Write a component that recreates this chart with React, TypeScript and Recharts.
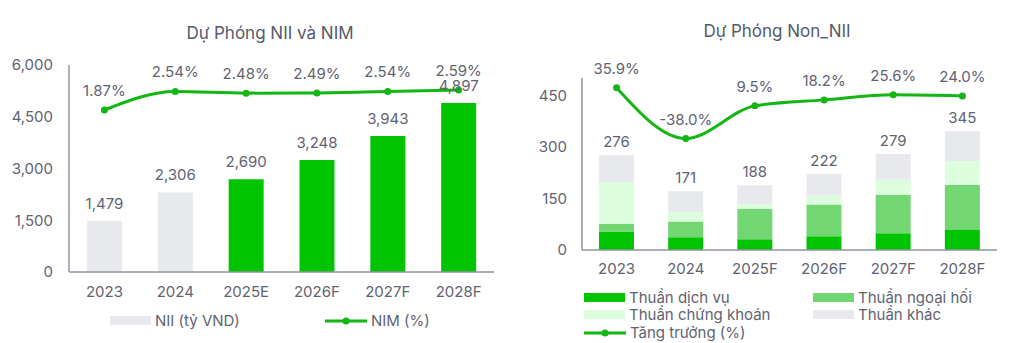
import React from "react";
import {
  ComposedChart,
  Bar,
  Line,
  Cell,
  XAxis,
  YAxis,
  LabelList,
  Legend,
} from "recharts";

// NII & NIM
const NII_YEARS = ["2023", "2024", "2025E", "2026F", "2027F", "2028F"];
const NII_VALUES = [1479, 2306, 2690, 3248, 3943, 4897];
const NIM_VALUES = [1.87, 2.54, 2.48, 2.49, 2.54, 2.59];
const NII_TICKS = [0, 1500, 3000, 4500, 6000];

// Non-NII
const NON_YEARS = ["2023", "2024", "2025F", "2026F", "2027F", "2028F"];
const DICH_VU = [54, 37, 31, 40, 49, 58];
const NGOAI_HOI = [22, 46, 88, 92, 111, 131];
const CHUNG_KHOAN = [121, 27, 15, 26, 44, 69];
const KHAC = [79, 61, 54, 64, 75, 87];
const NON_TOTAL = [276, 171, 188, 222, 279, 345];
const GROWTH = [35.9, -38.0, 9.5, 18.2, 25.6, 24.0];
const NON_TICKS = [0, 150, 300, 450];

const GREEN = "#00C400";
const LINE_GREEN = "#13B613";
const FX = "#72D672";
const SEC = "#DCFEDC";
const GREY = "#E8E9ED";
const TEXT = "#5f6372";
const AXIS = "#8f94a0";
const FONT = "Inter, sans-serif";

const niiData = NII_YEARS.map((year, i) => ({
  year,
  nii: NII_VALUES[i],
  nim: NIM_VALUES[i],
}));

const nonData = NON_YEARS.map((year, i) => ({
  year,
  dv: DICH_VU[i],
  fx: NGOAI_HOI[i],
  ck: CHUNG_KHOAN[i],
  khac: KHAC[i],
  total: NON_TOTAL[i],
  growth: GROWTH[i],
}));

const tickStyle = { fill: TEXT, fontSize: 15 };

function Swatch({ color }: { color: string }) {
  return (
    <span
      style={{
        display: "inline-block",
        width: 41,
        height: 9,
        background: color,
        marginRight: 4,
      }}
    />
  );
}

function LineSwatch() {
  return (
    <svg width={43} height={10} style={{ marginRight: 3 }}>
      <line x1={0} y1={5} x2={42} y2={5} stroke={LINE_GREEN} strokeWidth={3} />
      <circle cx={21} cy={5} r={3.5} fill={LINE_GREEN} />
    </svg>
  );
}

const legendItem: React.CSSProperties = {
  display: "flex",
  alignItems: "center",
  fontSize: 15,
  color: TEXT,
  lineHeight: "17px",
  whiteSpace: "nowrap",
};

function NiiLegend() {
  return (
    <div style={{ position: "relative", width: 400, height: 20 }}>
      <div style={{ ...legendItem, position: "absolute", left: 0, top: 0 }}>
        <Swatch color={GREY} />
        NII (tỷ VND)
      </div>
      <div style={{ ...legendItem, position: "absolute", left: 215, top: 0 }}>
        <LineSwatch />
        NIM (%)
      </div>
    </div>
  );
}

function NonLegend() {
  return (
    <div style={{ position: "relative", width: 420, height: 54 }}>
      <div style={{ ...legendItem, position: "absolute", left: 0, top: 0 }}>
        <Swatch color={GREEN} />
        Thuần dịch vụ
      </div>
      <div style={{ ...legendItem, position: "absolute", left: 229, top: 0 }}>
        <Swatch color={FX} />
        Thuần ngoại hối
      </div>
      <div style={{ ...legendItem, position: "absolute", left: 0, top: 17 }}>
        <Swatch color={SEC} />
        Thuần chứng khoán
      </div>
      <div style={{ ...legendItem, position: "absolute", left: 229, top: 17 }}>
        <Swatch color={GREY} />
        Thuần khác
      </div>
      <div style={{ ...legendItem, position: "absolute", left: 0, top: 35 }}>
        <LineSwatch />
        Tăng trưởng (%)
      </div>
    </div>
  );
}

const titleStyle: React.CSSProperties = {
  position: "absolute",
  fontSize: 17,
  color: "#545a6b",
  whiteSpace: "nowrap",
  transform: "translate(-50%, -50%)",
};

export default function App() {
  return (
    <div
      style={{
        position: "absolute",
        left: 0,
        top: 0,
        width: 1012,
        height: 343,
        background: "#fff",
        fontFamily: FONT,
        overflow: "hidden",
      }}
    >
      <div style={{ ...titleStyle, left: 270, top: 33 }}>Dự Phóng NII và NIM</div>
      <div style={{ ...titleStyle, left: 777, top: 31 }}>Dự Phóng Non_NII</div>

      <div style={{ position: "absolute", left: 0, top: 0 }}>
        <ComposedChart
          width={505}
          height={343}
          data={niiData}
          margin={{ top: 65, right: 11, bottom: 41, left: 0 }}
        >
          <XAxis
            dataKey="year"
            tickLine={false}
            tickSize={0}
            tickMargin={14}
            height={30}
            stroke={AXIS}
            strokeWidth={1.5}
            tick={tickStyle}
            interval={0}
          />
          <YAxis
            yAxisId="left"
            domain={[0, 6000]}
            ticks={NII_TICKS}
            tickFormatter={(v: number) => v.toLocaleString("en-US")}
            width={69}
            tickLine={false}
            tickSize={0}
            tickMargin={16}
            stroke={AXIS}
            strokeWidth={1.5}
            tick={tickStyle}
          />
          <YAxis yAxisId="right" orientation="right" domain={[-4, 3.5]} hide />
          <Bar
            yAxisId="left"
            dataKey="nii"
            barSize={35}
            isAnimationActive={false}
          >
            {niiData.map((_, i) => (
              <Cell key={i} fill={i < 2 ? GREY : GREEN} />
            ))}
            <LabelList
              dataKey="nii"
              position="top"
              offset={12}
              fill={TEXT}
              fontSize={15}
              formatter={(v: number) => v.toLocaleString("en-US")}
            />
          </Bar>
          <Line
            yAxisId="right"
            dataKey="nim"
            type="monotone"
            stroke={LINE_GREEN}
            strokeWidth={3}
            dot={{ r: 3.5, fill: LINE_GREEN, stroke: LINE_GREEN, strokeWidth: 0 }}
            isAnimationActive={false}
          >
            <LabelList
              dataKey="nim"
              position="top"
              offset={14}
              fill={TEXT}
              fontSize={15}
              formatter={(v: number) => `${v.toFixed(2)}%`}
            />
          </Line>
          <Legend
            layout="vertical"
            align="center"
            verticalAlign="middle"
            wrapperStyle={{ left: 110, top: 312, width: 400 }}
            content={() => <NiiLegend />}
          />
        </ComposedChart>
      </div>

      <div style={{ position: "absolute", left: 510, top: 0 }}>
        <ComposedChart
          width={502}
          height={343}
          data={nonData}
          margin={{ top: 78, right: 15, bottom: 63, left: 0 }}
        >
          <XAxis
            dataKey="year"
            tickLine={false}
            tickSize={0}
            tickMargin={13}
            height={30}
            stroke={AXIS}
            strokeWidth={1.5}
            tick={tickStyle}
            interval={0}
          />
          <YAxis
            yAxisId="left"
            domain={[0, 500]}
            ticks={NON_TICKS}
            width={72}
            tickLine={false}
            tickSize={0}
            tickMargin={15}
            stroke={AXIS}
            strokeWidth={1.5}
            tick={tickStyle}
          />
          <YAxis yAxisId="right" orientation="right" domain={[-200, 50]} hide />
          <Bar yAxisId="left" dataKey="dv" stackId="a" fill={GREEN} barSize={35} isAnimationActive={false} />
          <Bar yAxisId="left" dataKey="fx" stackId="a" fill={FX} barSize={35} isAnimationActive={false} />
          <Bar yAxisId="left" dataKey="ck" stackId="a" fill={SEC} barSize={35} isAnimationActive={false} />
          <Bar yAxisId="left" dataKey="khac" stackId="a" fill={GREY} barSize={35} isAnimationActive={false}>
            <LabelList
              dataKey="total"
              position="top"
              offset={8}
              fill={TEXT}
              fontSize={15}
            />
          </Bar>
          <Line
            yAxisId="right"
            dataKey="growth"
            type="monotone"
            stroke={LINE_GREEN}
            strokeWidth={3}
            dot={{ r: 3.5, fill: LINE_GREEN, stroke: LINE_GREEN, strokeWidth: 0 }}
            isAnimationActive={false}
          >
            <LabelList
              dataKey="growth"
              position="top"
              offset={14}
              fill={TEXT}
              fontSize={15}
              formatter={(v: number) => `${v.toFixed(1)}%`}
            />
          </Line>
          <Legend
            layout="vertical"
            align="center"
            verticalAlign="middle"
            wrapperStyle={{ left: 74, top: 289, width: 420 }}
            content={() => <NonLegend />}
          />
        </ComposedChart>
      </div>
    </div>
  );
}
